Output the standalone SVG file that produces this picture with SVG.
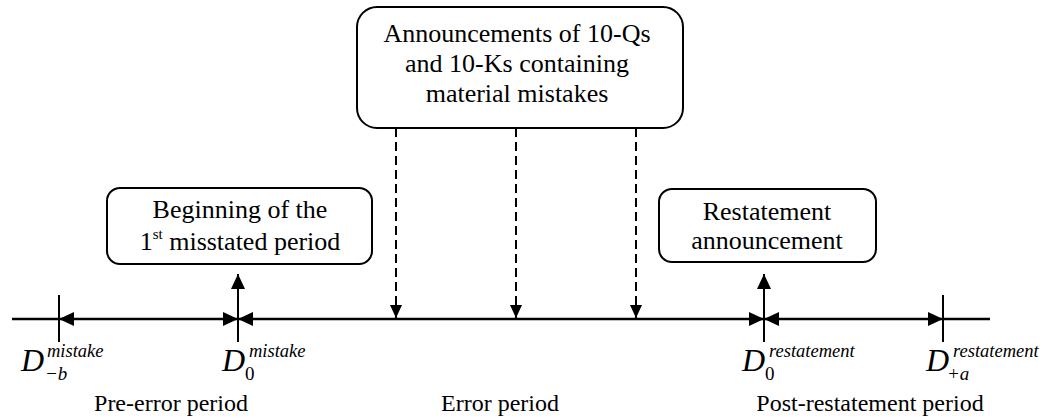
<svg xmlns="http://www.w3.org/2000/svg" width="1042" height="418" viewBox="0 0 1042 418">
<style>
text{font-family:'Liberation Serif','Times New Roman','DejaVu Serif',serif;fill:#000}
.box{fill:#fff;stroke:#000;stroke-width:2}
.t{font-size:26px;text-anchor:middle}
.p{font-size:24px;text-anchor:middle}
.D{font-style:italic;font-size:32px}
.sup{font-style:italic;font-size:18.5px}
.sub{font-style:italic;font-size:19px}
.n{font-style:normal;font-size:19px}
.ln{stroke:#000;stroke-width:2.5;fill:none}
.tick{stroke:#000;stroke-width:2;fill:none}
.dash{stroke:#000;stroke-width:2;stroke-dasharray:9,5;fill:none}
</style>
<defs>
<marker id="ah" markerUnits="userSpaceOnUse" markerWidth="16" markerHeight="14" refX="15" refY="7" orient="auto-start-reverse">
<path d="M0,0 L15,7 L0,14 Z" fill="#000"/>
</marker>
<marker id="ahs" markerUnits="userSpaceOnUse" markerWidth="14" markerHeight="12" refX="13" refY="6" orient="auto">
<path d="M0,0 L13,6 L0,12 Z" fill="#000"/>
</marker>
</defs>
<g id="connectors">
<line class="ln" x1="12" y1="319" x2="59" y2="319"/>
<line class="ln" x1="943" y1="319" x2="990" y2="319"/>
<line class="ln" x1="59" y1="319" x2="238" y2="319" marker-start="url(#ah)" marker-end="url(#ah)"/>
<line class="ln" x1="238" y1="319" x2="764" y2="319" marker-start="url(#ah)" marker-end="url(#ah)"/>
<line class="ln" x1="764" y1="319" x2="943" y2="319" marker-start="url(#ah)" marker-end="url(#ah)"/>
<line class="tick" x1="59" y1="295" x2="59" y2="342"/>
<line class="tick" x1="943" y1="295" x2="943" y2="342"/>
<line class="tick" x1="238" y1="342" x2="238" y2="319"/>
<line class="tick" x1="764" y1="342" x2="764" y2="319"/>
<line class="tick" x1="238" y1="319" x2="238" y2="274" marker-end="url(#ah)"/>
<line class="tick" x1="764" y1="319" x2="764" y2="274" marker-end="url(#ah)"/>
<line class="dash" x1="396" y1="128" x2="396" y2="318" marker-end="url(#ahs)"/>
<line class="dash" x1="516" y1="128" x2="516" y2="318" marker-end="url(#ahs)"/>
<line class="dash" x1="636" y1="128" x2="636" y2="318" marker-end="url(#ahs)"/>
</g>
<g id="node-announcements">
<rect class="box" x="357" y="7" width="326" height="121" rx="20"/>
<text class="t" x="517" y="42">Announcements of 10-Qs</text>
<text class="t" x="517" y="72">and 10-Ks containing</text>
<text class="t" x="517" y="102">material mistakes</text>
</g>
<g id="node-beginning">
<rect class="box" x="107" y="188" width="265" height="76" rx="13"/>
<text class="t" x="240" y="218">Beginning of the</text>
<text class="t" x="240" y="250">1<tspan font-size="15" dy="-11">st</tspan><tspan dy="11"> misstated period</tspan></text>
</g>
<g id="node-restatement">
<rect class="box" x="659" y="189" width="217" height="73" rx="13"/>
<text class="t" x="767" y="220">Restatement</text>
<text class="t" x="767" y="249">announcement</text>
</g>
<g id="labels">
<text class="D" x="21" y="371">D</text>
<text class="sup" x="47" y="357">mistake</text>
<text class="sub" x="45" y="380">−b</text>
<text class="D" x="222" y="371">D</text>
<text class="sup" x="249" y="357">mistake</text>
<text class="n" x="245" y="380">0</text>
<text class="D" x="742" y="371">D</text>
<text class="sup" x="769" y="357">restatement</text>
<text class="n" x="765" y="380">0</text>
<text class="D" x="926" y="371">D</text>
<text class="sup" x="953" y="357">restatement</text>
<text class="sub" x="947" y="380">+a</text>
<text class="p" x="171" y="411">Pre-error period</text>
<text class="p" x="500" y="411">Error period</text>
<text class="p" x="870" y="411">Post-restatement period</text>
</g>
</svg>
